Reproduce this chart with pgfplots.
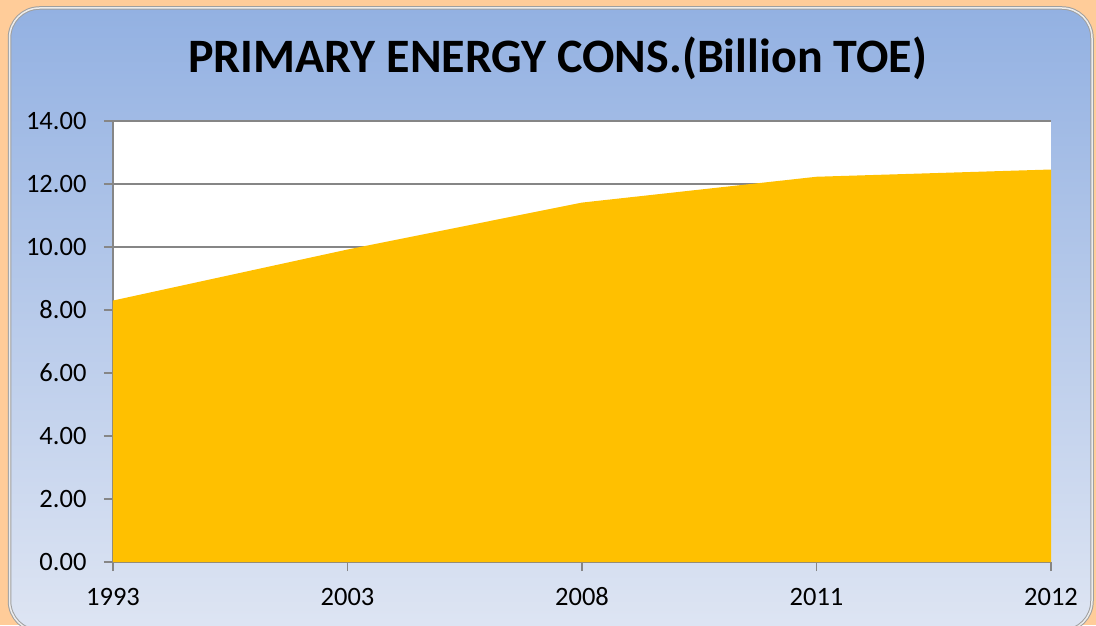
\documentclass[border=0pt]{standalone}
\usepackage{pgfplots}
\pgfplotsset{compat=1.18}
\usepackage{fontspec}
\setmainfont{Carlito}
\definecolor{peach}{RGB}{255,204,153}
\definecolor{bgtop}{RGB}{147,177,226}
\definecolor{bgbot}{RGB}{222,229,243}
\definecolor{areaorange}{RGB}{255,192,0}
\definecolor{gridgray}{RGB}{134,134,134}
\begin{document}
\begin{tikzpicture}
\useasboundingbox (0pt,0pt) rectangle (1096pt,625pt);
\fill[peach] (0pt,0pt) rectangle (1096pt,625pt);
\shade[top color=bgtop, bottom color=bgbot, rounded corners=30pt] (9.5pt,-6pt) rectangle (1092pt,617pt);
\draw[draw=gray!75, double=gray!15, double distance=1.5pt, line width=1pt, rounded corners=30pt] (9.5pt,-6pt) rectangle (1092pt,617pt);
\node[anchor=base, font=\fontsize{48}{48}\selectfont\bfseries] at (557.5pt,552pt) {PRIMARY ENERGY CONS.(Billion TOE)};
\begin{axis}[
  at={(113pt,63pt)}, anchor=south west,
  scale only axis, width=938pt, height=441pt,
  xmin=0, xmax=4, ymin=0, ymax=14,
  xtick={0,1,2,3,4},
  xticklabels={1993,2003,2008,2011,2012},
  ytick={0,2,...,14},
  ymajorgrids,
  grid style={gridgray, line width=1.2pt},
  axis x line*=bottom, axis y line*=left,
  axis line style={gridgray, line width=1.2pt},
  tick style={gridgray, line width=1.2pt},
  major tick length=9pt,
  tick align=outside,
  axis background/.style={fill=white},
  tick label style={font=\fontsize{26.5}{26.5}\selectfont},
  /pgf/number format/assume math mode=true,
  yticklabel style={xshift=-14pt, /pgf/number format/fixed,/pgf/number format/fixed zerofill,/pgf/number format/precision=2},
  xticklabel style={yshift=-24pt, text height=0.65em, text depth=0.1em},
]
\addplot[fill=areaorange, draw=none] coordinates {(0,8.30) (1,9.92) (2,11.41) (3,12.23) (4,12.46)} \closedcycle;
\end{axis}
\end{tikzpicture}
\end{document}
